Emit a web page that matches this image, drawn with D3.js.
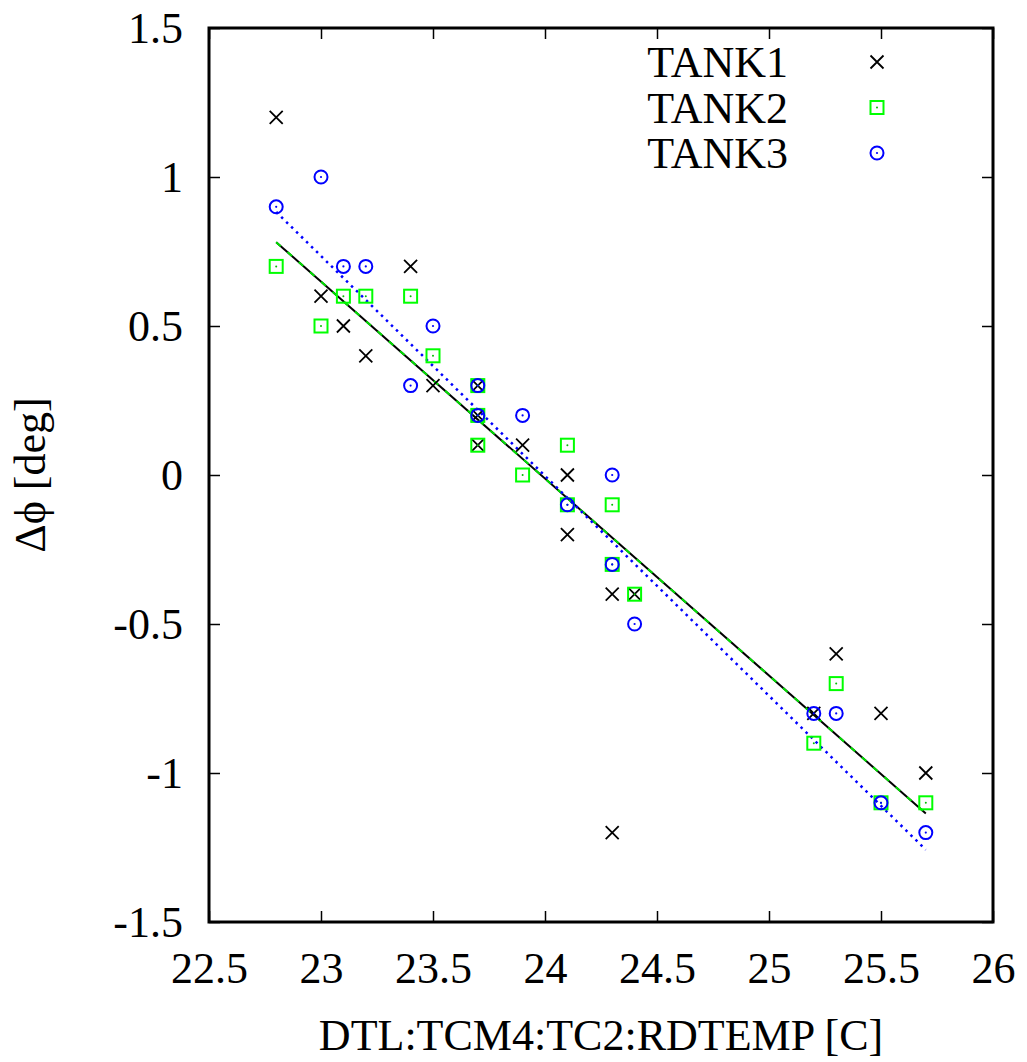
<!DOCTYPE html>
<html>
<head>
<meta charset="utf-8">
<script src="https://cdn.jsdelivr.net/npm/d3@7"></script>
<style>
  body { margin: 0; background: #fff; }
</style>
</head>
<body>
<div id="chart"></div>
<script>
// Measured values
const tank1X = [22.8, 23.0, 23.1, 23.2, 23.4, 23.5, 23.7, 23.7, 23.7, 23.9, 24.1, 24.1, 24.3, 24.3, 24.4, 25.2, 25.3, 25.5, 25.7];
const tank1Y = [1.2, 0.6, 0.5, 0.4, 0.7, 0.3, 0.3, 0.2, 0.1, 0.1, 0.0, -0.2, -0.4, -1.2, -0.4, -0.8, -0.6, -0.8, -1.0];

const tank2X = [22.8, 23.0, 23.1, 23.2, 23.4, 23.5, 23.7, 23.7, 23.7, 23.9, 24.1, 24.1, 24.3, 24.3, 24.4, 25.2, 25.3, 25.5, 25.7];
const tank2Y = [0.7, 0.5, 0.6, 0.6, 0.6, 0.4, 0.3, 0.2, 0.1, 0.0, 0.1, -0.1, -0.1, -0.3, -0.4, -0.9, -0.7, -1.1, -1.1];

const tank3X = [22.8, 23.0, 23.1, 23.2, 23.4, 23.5, 23.7, 23.7, 23.9, 24.1, 24.3, 24.3, 24.4, 25.2, 25.3, 25.5, 25.7];
const tank3Y = [0.9, 1.0, 0.7, 0.7, 0.3, 0.5, 0.3, 0.2, 0.2, -0.1, 0.0, -0.3, -0.5, -0.8, -0.8, -1.1, -1.2];

// Linear fits (slope, intercept) and their x range
const fitSlope = [-0.661, -0.661, -0.738];
const fitIntercept = [15.852, 15.852, 17.709];
const fitRange = [22.8, 25.7];

const seriesNames = ['TANK1', 'TANK2', 'TANK3'];
const xTicks = [22.5, 23, 23.5, 24, 24.5, 25, 25.5, 26];
const yTicks = [-1.5, -1, -0.5, 0, 0.5, 1, 1.5];

// Layout
const width = 1027;
const height = 1062;
const margins = { top: 28, right: 34, bottom: 140, left: 209 };
const innerWidth = width - margins.left - margins.right;
const innerHeight = height - margins.top - margins.bottom;
const fontName = 'Liberation Serif';
const fontSize = 44;

const svg = d3.select('#chart')
    .append('svg')
    .attr('width', width)
    .attr('height', height);

const g = svg.append('g')
    .attr('transform', `translate(${margins.left},${margins.top})`);

const xScale = d3.scaleLinear().domain([22.5, 26]).range([0, innerWidth]);
const yScale = d3.scaleLinear().domain([-1.5, 1.5]).range([innerHeight, 0]);

const fmt = d => String(d);
const tickLen = 11;

function styleText(sel) {
    sel.attr('font-family', fontName)
        .style('font-family', fontName)
        .attr('font-size', fontSize)
        .attr('fill', '#000');
}

// Axes: labels outside, ticks inward, mirrored on top/right
g.append('g')
    .attr('transform', `translate(0,${innerHeight})`)
    .call(d3.axisBottom(xScale).tickValues(xTicks).tickFormat(fmt).tickSizeInner(-tickLen).tickSizeOuter(0).tickPadding(30))
    .call(a => a.select('.domain').remove())
    .call(a => a.selectAll('line').attr('stroke-width', 1.5))
    .call(a => a.selectAll('text').call(styleText));

g.append('g')
    .call(d3.axisTop(xScale).tickValues(xTicks).tickFormat('').tickSizeInner(-tickLen).tickSizeOuter(0))
    .call(a => a.select('.domain').remove())
    .call(a => a.selectAll('line').attr('stroke-width', 1.5));

g.append('g')
    .call(d3.axisLeft(yScale).tickValues(yTicks).tickFormat(fmt).tickSizeInner(-tickLen).tickSizeOuter(0).tickPadding(26))
    .call(a => a.select('.domain').remove())
    .call(a => a.selectAll('line').attr('stroke-width', 1.5))
    .call(a => a.selectAll('text').call(styleText));

g.append('g')
    .attr('transform', `translate(${innerWidth},0)`)
    .call(d3.axisRight(yScale).tickValues(yTicks).tickFormat('').tickSizeInner(-tickLen).tickSizeOuter(0))
    .call(a => a.select('.domain').remove())
    .call(a => a.selectAll('line').attr('stroke-width', 1.5));

// Frame
g.append('rect')
    .attr('x', 0)
    .attr('y', 0)
    .attr('width', innerWidth)
    .attr('height', innerHeight)
    .attr('fill', 'none')
    .attr('stroke', '#000')
    .attr('stroke-width', 3);

// Fit lines
const fitStyles = [
    { color: '#000', dash: null, width: 2 },
    { color: '#00e000', dash: '6,9', width: 2 },
    { color: '#0000ff', dash: '2.5,4.5', width: 2.5 }
];
const fitLine = d3.line().x(d => xScale(d[0])).y(d => yScale(d[1]));
fitSlope.forEach((m, i) => {
    const pts = fitRange.map(x => [x, m * x + fitIntercept[i]]);
    g.append('path')
        .attr('d', fitLine(pts))
        .attr('fill', 'none')
        .attr('stroke', fitStyles[i].color)
        .attr('stroke-width', fitStyles[i].width)
        .attr('stroke-dasharray', fitStyles[i].dash);
});

// Marker drawers
function drawCross(sel) {
    const s = 6.5;
    sel.append('path')
        .attr('d', `M${-s},${-s}L${s},${s}M${-s},${s}L${s},${-s}`)
        .attr('stroke', '#000')
        .attr('stroke-width', 1.8)
        .attr('fill', 'none');
}
function drawSquare(sel) {
    const s = 6.5;
    sel.append('rect')
        .attr('x', -s).attr('y', -s)
        .attr('width', 2 * s).attr('height', 2 * s)
        .attr('fill', 'none')
        .attr('stroke', '#00ff00')
        .attr('stroke-width', 2);
    sel.append('circle').attr('r', 1).attr('fill', '#00c000');
}
function drawCircle(sel) {
    sel.append('circle')
        .attr('r', 6.5)
        .attr('fill', 'none')
        .attr('stroke', '#0000ff')
        .attr('stroke-width', 2);
    sel.append('circle').attr('r', 1.1).attr('fill', '#0000ff');
}
const drawers = [drawCross, drawSquare, drawCircle];

const series = [
    tank1X.map((x, i) => [x, tank1Y[i]]),
    tank2X.map((x, i) => [x, tank2Y[i]]),
    tank3X.map((x, i) => [x, tank3Y[i]])
];

series.forEach((pts, k) => {
    g.append('g')
        .selectAll('g')
        .data(pts)
        .join('g')
        .attr('transform', d => `translate(${xScale(d[0])},${yScale(d[1])})`)
        .each(function () { drawers[k](d3.select(this)); });
});

// Legend
const legend = svg.append('g');
seriesNames.forEach((name, i) => {
    const y = 62 + i * 45.5;
    legend.append('text')
        .attr('x', 788)
        .attr('y', y)
        .attr('dy', '0.35em')
        .attr('text-anchor', 'end')
        .call(styleText)
        .text(name);
    const m = legend.append('g').attr('transform', `translate(877,${y})`);
    drawers[i](m);
});

// Axis titles
svg.append('text')
    .attr('x', margins.left + innerWidth / 2)
    .attr('y', 1050)
    .attr('text-anchor', 'middle')
    .call(styleText)
    .text('DTL:TCM4:TC2:RDTEMP [C]');

svg.append('text')
    .attr('transform', `translate(45,${margins.top + innerHeight / 2}) rotate(-90)`)
    .attr('text-anchor', 'middle')
    .call(styleText)
    .text('Δϕ [deg]');
</script>
</body>
</html>
